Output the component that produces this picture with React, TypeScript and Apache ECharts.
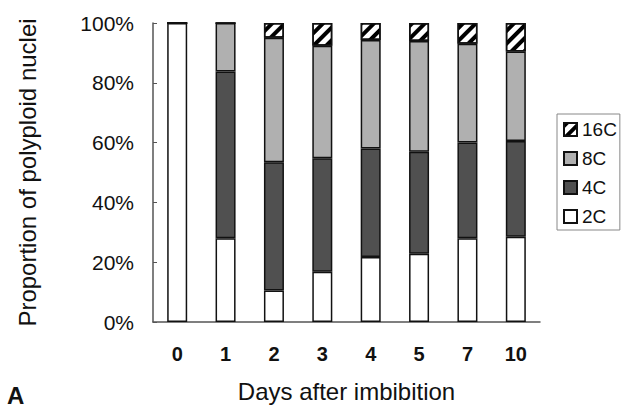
import React, { useEffect, useRef } from "react";
import * as echarts from "echarts";

const days = ["0", "1", "2", "3", "4", "5", "7", "10"];
const c2 = [100, 28, 10.5, 16.8, 21.7, 22.8, 28, 28.5];
const c4 = [0, 55.8, 42.9, 38, 36.3, 34.1, 32, 32];
const c8 = [0, 16.2, 41.7, 37.6, 36.3, 37.1, 33.1, 30];
const c16 = [0, 0, 4.9, 7.6, 5.7, 6, 6.9, 9.5];
const yTicks = [0, 20, 40, 60, 80, 100];

const FONT = "'Liberation Sans', Arial, sans-serif";

export default function App() {
  const ref = useRef<HTMLDivElement>(null);
  useEffect(() => {
    if (!ref.current) return;
    const chart = echarts.init(ref.current, undefined, { renderer: "svg" });
    const border = { borderColor: "#111", borderWidth: 1.5 };
    const mk = (name: string, data: number[], itemStyle: any) => ({
      name,
      type: "bar",
      stack: "all",
      data,
      barWidth: 20,
      itemStyle: { ...border, ...itemStyle },
      emphasis: { disabled: true },
    });
    chart.setOption({
      animation: false,
      textStyle: { fontFamily: FONT },
      grid: { left: 153, right: 83, top: 23, bottom: 80 },
      legend: {
        orient: "vertical",
        left: 557,
        top: 114,
        data: ["16C", "8C", "4C", "2C"],
        itemWidth: 13,
        itemHeight: 13,
        itemGap: 10,
        padding: [6, 3, 4, 6],
        borderColor: "#888",
        borderWidth: 1,
        icon: "rect",
        textStyle: { fontSize: 19, color: "#111", fontFamily: FONT },
      },
      xAxis: {
        type: "category",
        data: days,
        name: "Days after imbibition",
        nameLocation: "middle",
        nameGap: 57,
        nameTextStyle: { fontSize: 24, color: "#111", fontFamily: FONT, verticalAlign: "top" },
        axisLine: { lineStyle: { color: "#555", width: 1.5 } },
        axisTick: { inside: true, length: 5, lineStyle: { color: "#555" } },
        axisLabel: { fontSize: 20, color: "#111", margin: 22, fontWeight: "bold" },
      },
      yAxis: {
        type: "value",
        min: 0,
        max: 100,
        interval: 20,
        name: "Proportion of polyploid nuclei",
        nameLocation: "middle",
        nameGap: 114,
        nameTextStyle: { fontSize: 24, color: "#111", fontFamily: FONT },
        axisLine: { show: true, lineStyle: { color: "#555", width: 1.5 } },
        axisTick: { show: true, inside: true, length: 4, lineStyle: { color: "#555" } },
        splitLine: { show: false },
        axisLabel: {
          fontSize: 21,
          color: "#111",
          margin: 19,
          formatter: (v: number) => (yTicks.includes(v) ? v + "%" : ""),
        },
      },
      series: [
        mk("2C", c2, { color: "#ffffff" }),
        mk("4C", c4, { color: "#505050" }),
        mk("8C", c8, { color: "#b0b0b0" }),
        mk("16C", c16, {
          color: "#ffffff",
          decal: {
            symbol: "rect",
            color: "#000",
            dashArrayX: [1, 0],
            dashArrayY: [4, 5],
            rotation: -Math.PI / 4,
            symbolSize: 1,
          },
        }),
      ],
      graphic: [
        {
          type: "text",
          left: 7,
          top: 383,
          style: { text: "A", fontSize: 24, fontWeight: "bold", fill: "#111", fontFamily: FONT },
        },
      ],
    });
    return () => chart.dispose();
  }, []);
  return <div ref={ref} style={{ width: 623, height: 408, position: "absolute", left: 0, top: 0 }} />;
}
